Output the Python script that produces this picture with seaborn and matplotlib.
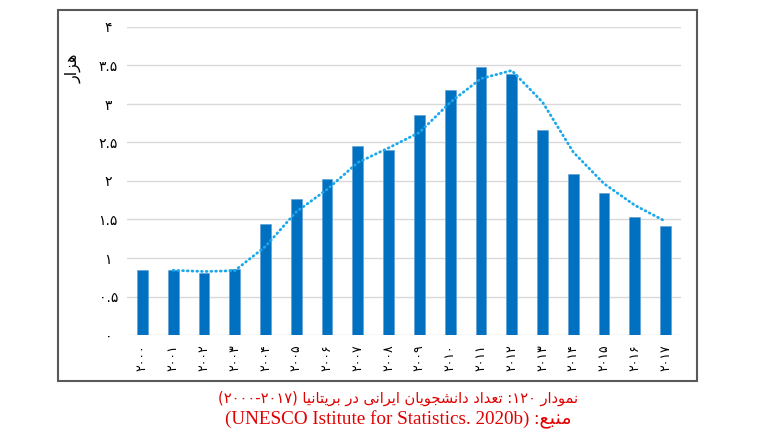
"""
    Iranian students in the UK, 2000-2017 (thousands), bars + 2-period moving average
"""
import numpy as np
import pandas as pd
import seaborn as sns
import matplotlib.pyplot as plt
from matplotlib.patches import Rectangle

years = ["۲۰۰۰", "۲۰۰۱", "۲۰۰۲", "۲۰۰۳", "۲۰۰۴", "۲۰۰۵", "۲۰۰۶", "۲۰۰۷", "۲۰۰۸",
         "۲۰۰۹", "۲۰۱۰", "۲۰۱۱", "۲۰۱۲", "۲۰۱۳", "۲۰۱۴", "۲۰۱۵", "۲۰۱۶", "۲۰۱۷"]
students = [0.84, 0.84, 0.81, 0.86, 1.44, 1.76, 2.02, 2.46, 2.40,
            2.86, 3.18, 3.48, 3.39, 2.66, 2.09, 1.84, 1.53, 1.42]
ytick_vals = [0, 0.5, 1, 1.5, 2, 2.5, 3, 3.5, 4]
ytick_labels = ["۰", "۰.۵", "۱", "۱.۵", "۲", "۲.۵", "۳", "۳.۵", "۴"]
ylabel = "هزار"
caption_1 = "تعداد دانشجویان ایرانی در بریتانیا"
caption_1_num = ":۱۲۰"
caption_1_head = "نمودار"
caption_1_range = "(۲۰۰۰-۲۰۱۷)"
caption_2_head = "منبع"
caption_2_src = "(UNESCO Istitute for Statistics. 2020b)"

# presentation forms: isolated, final, initial, medial (None -> joins only to the right)
FORMS = {
    'ا': ('\uFE8D', '\uFE8E', None, None),
    'ب': ('\uFE8F', '\uFE90', '\uFE91', '\uFE92'),
    'ت': ('\uFE95', '\uFE96', '\uFE97', '\uFE98'),
    'ج': ('\uFE9D', '\uFE9E', '\uFE9F', '\uFEA0'),
    'د': ('\uFEA9', '\uFEAA', None, None),
    'ر': ('\uFEAD', '\uFEAE', None, None),
    'ز': ('\uFEAF', '\uFEB0', None, None),
    'ش': ('\uFEB5', '\uFEB6', '\uFEB7', '\uFEB8'),
    'ع': ('\uFEC9', '\uFECA', '\uFECB', '\uFECC'),
    'م': ('\uFEE1', '\uFEE2', '\uFEE3', '\uFEE4'),
    'ن': ('\uFEE5', '\uFEE6', '\uFEE7', '\uFEE8'),
    'ه': ('\uFEE9', '\uFEEA', '\uFEEB', '\uFEEC'),
    'و': ('\uFEED', '\uFEEE', None, None),
    'ی': ('\uFEEF', '\uFEF0', '\uFEF3', '\uFEF4'),
}


def shape_word(w):
    out = []
    for i, c in enumerate(w):
        if c not in FORMS:
            out.append(c)
            continue
        iso, fin, ini, med = FORMS[c]
        prev = w[i - 1] if i > 0 else ''
        nxt = w[i + 1] if i + 1 < len(w) else ''
        jp = prev in FORMS and FORMS[prev][2] is not None
        jn = ini is not None and nxt in FORMS
        if jp and jn:
            out.append(med)
        elif jp:
            out.append(fin)
        elif jn:
            out.append(ini)
        else:
            out.append(iso)
    return ''.join(out)[::-1]


def rtl(text):
    return ' '.join(shape_word(w) for w in reversed(text.split(' ')))


sns.set_style("white")
plt.rcParams['font.family'] = ['DejaVu Sans']

fig = plt.figure(figsize=(7.7, 4.4), dpi=100)
ax = fig.add_axes([127/770, 105/440, 554/770, 308/440])

df = pd.DataFrame({"year": years, "students": students})
sns.barplot(data=df, x="year", y="students", ax=ax, color="#0070c0", saturation=1,
            width=0.35, edgecolor="#5b9bd5", linewidth=0.4, zorder=2)

# 2-period moving average trendline
ma = df["students"].rolling(2).mean()
sns.lineplot(x=np.arange(1, len(years)), y=ma.values[1:], ax=ax, color="#1aa8ea",
             lw=2, linestyle=(0, (0.3, 1.4)), dash_capstyle="round", zorder=3,
             errorbar=None)

# Axis cosmetics
ax.set_xlim(-0.5, len(years) - 0.5)
ax.set_ylim(0, 4)
ax.set_yticks(ytick_vals)
ax.set_yticklabels(ytick_labels, fontsize=10, ha="center", color="black")
ax.set_xticks(range(len(years)))
ax.set_xticklabels(years, fontsize=9, rotation=90, va="top", ha="center", color="black")
ax.tick_params(axis="y", length=0, pad=13.5)
ax.tick_params(axis="x", length=0, pad=6.5)
ax.set_xlabel("")
ax.set_ylabel("")
ax.yaxis.grid(True, color="#d9d9d9", lw=1)
ax.set_axisbelow(True)
for s in ax.spines.values():
    s.set_visible(False)

fig.text(73/770, 1 - 68/440, rtl(ylabel), rotation=90, fontsize=11.5,
         ha="center", va="center", color="black")

# chart border
fig.patches.append(Rectangle((58/770, 59/440), 639/770, 371/440, transform=fig.transFigure,
                             fill=False, ec="#595959", lw=1.5))

# caption
red = "#e00000"
line1 = caption_1_range + " " + rtl(caption_1) + " " + caption_1_num + " " + rtl(caption_1_head)
line2 = caption_2_src + " :" + rtl(caption_2_head)
fig.text(0.517, 1 - 398/440, line1, color=red, fontsize=10.5, ha="center", va="center",
         family=["DejaVu Sans"])
fig.text(0.517, 1 - 420/440, line2, color=red, fontsize=13.8, ha="center", va="center",
         family=["Liberation Serif", "DejaVu Sans"])

fig.savefig("out.png", dpi=100)
